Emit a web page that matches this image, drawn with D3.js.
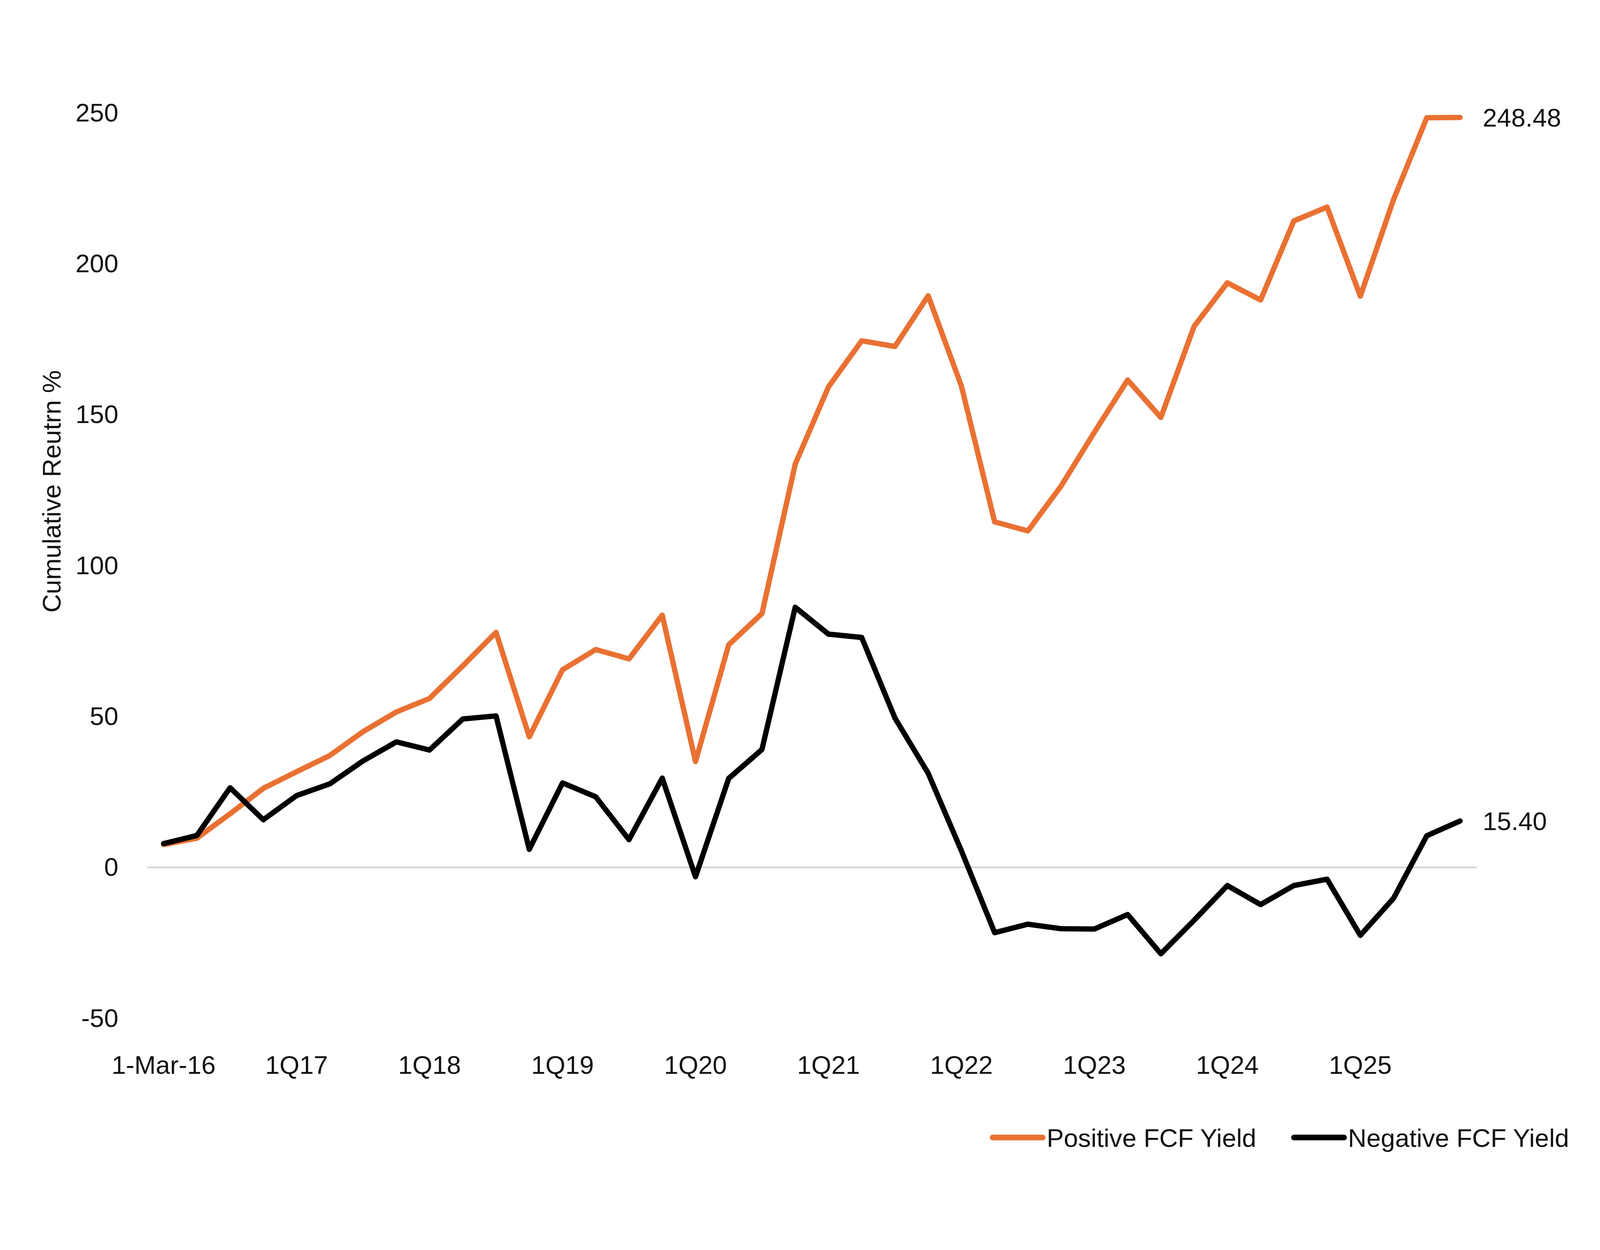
<!DOCTYPE html>
<html>
<head>
<meta charset="utf-8">
<title>Cumulative return: positive vs negative FCF yield</title>
<style>
html, body {
  margin: 0;
  padding: 0;
  overflow: hidden;
  background: #ffffff;
}

svg {
  display: block;
  font-family: "Liberation Sans", Arial, sans-serif;
}

.axis text, .lbl {
  fill: #111111;
}

.zero {
  stroke: #d4d4d4;
}

.series {
  fill: none;
  stroke-linejoin: round;
  stroke-linecap: round;
}
</style>
<script src="https://d3js.org/d3.v7.min.js"></script>
</head>
<body>
<div id="result"></div>
<script>
var categories = ["1-Mar-16","2Q16","3Q16","4Q16","1Q17","2Q17","3Q17","4Q17","1Q18","2Q18",
  "3Q18","4Q18","1Q19","2Q19","3Q19","4Q19","1Q20","2Q20","3Q20","4Q20",
  "1Q21","2Q21","3Q21","4Q21","1Q22","2Q22","3Q22","4Q22","1Q23","2Q23",
  "3Q23","4Q23","1Q24","2Q24","3Q24","4Q24","1Q25","2Q25","3Q25","4Q25"]

var positive = [7.6,9.7,17.8,26.2,31.7,37.1,45.0,51.5,56.0,66.8,
  77.9,43.3,65.5,72.2,69.1,83.6,35.1,73.8,84.1,133.6,
  159.2,174.5,172.6,189.4,159.5,114.5,111.5,126.4,144.2,161.5,
  149.1,179.3,193.7,188.0,214.2,218.8,189.3,221.3,248.4,248.48]

var negative = [7.9,10.6,26.4,15.8,23.8,27.7,35.3,41.6,38.9,49.2,
  50.2,6.0,28.0,23.4,9.2,29.6,-3.1,29.5,39.1,86.2,
  77.3,76.2,49.5,31.2,5.5,-21.6,-18.8,-20.3,-20.4,-15.6,
  -28.6,-17.5,-6.0,-12.3,-6.0,-3.9,-22.5,-10.2,10.5,15.40]

var yTicks = [-50,0,50,100,150,200,250]
var xTicks = ["1-Mar-16","1Q17","1Q18","1Q19","1Q20","1Q21","1Q22","1Q23","1Q24","1Q25"]

var series = [
  {name:"Positive FCF Yield", values:positive, color:"#e97132", end:"248.48"},
  {name:"Negative FCF Yield", values:negative, color:"#000000", end:"15.40"}
]

// layout is worked out on a 4800x3200 frame, then fitted to the window
var vw = window.innerWidth || 4800, vh = window.innerHeight || 3200
var kx = vw/4800, ky = vh/3200, k = Math.min(kx,ky)
var X = v => v*kx, Y = v => v*ky
var fs = 77*k

var svg = d3.select('#result').append('svg').attr('width',vw).attr('height',vh)

var x = d3.scaleBand().domain(categories).range([X(441),X(4430)])
var y = d3.scaleLinear().domain([-50,250]).range([Y(2607),Y(289)])
var cx = c => x(c) + x.bandwidth()/2

// y axis labels only
var gy = svg.append('g').attr('class','axis').attr('transform',`translate(${X(441)},0)`)
  .call(d3.axisLeft(y).tickValues(yTicks).tickFormat(d=>String(d)).tickSize(0).tickPadding(X(86)))
gy.select('.domain').remove()
gy.selectAll('text').attr('font-family',null).attr('font-size',fs)

// x axis labels
var gx = svg.append('g').attr('class','axis').attr('transform',`translate(0,${Y(2749)-0.71*fs})`)
  .call(d3.axisBottom(x).tickValues(xTicks).tickSize(0).tickPadding(0))
gx.select('.domain').remove()
gx.selectAll('text').attr('font-family',null).attr('font-size',fs)

// zero line
svg.append('line').attr('class','zero')
  .attr('stroke-width',5*k)
  .attr('x1',x.range()[0]).attr('x2',x.range()[1])
  .attr('y1',y(0)).attr('y2',y(0))

var line = d3.line()
  .x((d,i)=>cx(categories[i]))
  .y(d=>y(d))

svg.selectAll('path.series').data(series).enter().append('path')
  .attr('class','series')
  .attr('stroke',d=>d.color)
  .attr('stroke-width',16*k)
  .attr('d',d=>line(d.values))

// end labels
svg.selectAll('text.end').data(series).enter().append('text')
  .attr('class','lbl end')
  .attr('font-size',fs)
  .attr('x',d=>cx(categories[categories.length-1])+X(68))
  .attr('y',d=>y(d.values[d.values.length-1]))
  .attr('dy','0.36em')
  .text(d=>d.end)

// y title
svg.append('text').attr('class','lbl')
  .attr('font-size',fs)
  .attr('transform',`translate(${X(182)},${Y(1258)}) rotate(-90)`)
  .attr('text-anchor','middle')
  .text('Cumulative Reutrn %')

// legend
var legX = [2978,3882]
var lg = svg.selectAll('g.leg').data(series).enter().append('g')
  .attr('class','leg')
  .attr('transform',(d,i)=>`translate(${X(legX[i])},${Y(2912)})`)
lg.append('line').attr('x1',0).attr('x2',X(150)).attr('y1',0).attr('y2',0)
  .attr('stroke',d=>d.color).attr('stroke-width',17*k).attr('stroke-linecap','round')
lg.append('text').attr('class','lbl').attr('font-size',fs)
  .attr('x',X(162)).attr('dy','0.36em').text(d=>d.name)
</script>
</body>
</html>
